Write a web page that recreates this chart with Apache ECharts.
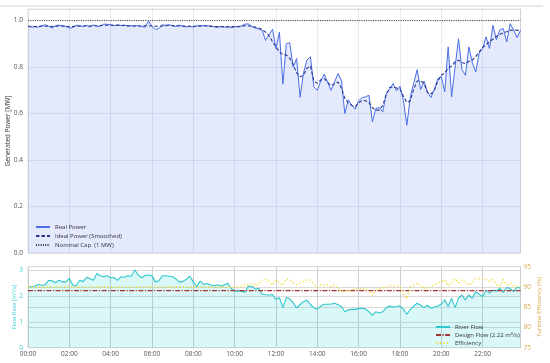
<!DOCTYPE html>
<html><head><meta charset="utf-8">
<script src="https://cdn.jsdelivr.net/npm/echarts@6/dist/echarts.min.js"></script>
<style>html,body{margin:0;padding:0;background:#fff}#c{width:550px;height:363px}</style>
</head><body><div id="c"></div>
<script>
const stepMinutes = 10;
const timeTicks = ['00:00','02:00','04:00','06:00','08:00','10:00','12:00','14:00','16:00','18:00','20:00','22:00'];
const powerTicks = [0.0, 0.2, 0.4, 0.6, 0.8, 1.0];
const nominalCap = 1.0;
const designFlow = 2.22;
const realPower = [
 0.975,0.972,0.973,0.972,0.978,0.982,0.976,0.968,0.978,0.981,
 0.977,0.975,0.968,0.970,0.980,0.978,0.975,0.980,0.972,0.982,
 0.975,0.976,0.985,0.984,0.983,0.978,0.982,0.979,0.981,0.976,
 0.978,0.976,0.979,0.974,0.972,0.998,0.975,0.962,0.966,0.982,
 0.980,0.983,0.977,0.975,0.981,0.975,0.973,0.976,0.972,0.978,
 0.977,0.979,0.978,0.977,0.973,0.971,0.975,0.972,0.975,0.970,
 0.975,0.972,0.977,0.985,0.986,0.975,0.968,0.964,0.958,0.915,
 0.940,0.963,0.880,0.951,0.726,0.900,0.905,0.800,0.837,0.670,
 0.775,0.830,0.845,0.715,0.700,0.740,0.770,0.735,0.700,0.735,
 0.772,0.743,0.600,0.660,0.636,0.619,0.655,0.668,0.672,0.679,
 0.564,0.622,0.626,0.607,0.685,0.705,0.729,0.698,0.718,0.657,
 0.550,0.672,0.730,0.789,0.703,0.739,0.693,0.669,0.705,0.750,
 0.760,0.693,0.887,0.672,0.800,0.922,0.790,0.765,0.887,0.820,
 0.779,0.860,0.880,0.930,0.880,0.980,0.918,0.960,0.966,0.908,
 0.987,0.960,0.927,0.958];
const idealPower = [
 0.976,0.976,0.975,0.975,0.976,0.976,0.976,0.975,0.976,0.977,
 0.977,0.976,0.975,0.975,0.976,0.977,0.977,0.977,0.977,0.978,
 0.978,0.979,0.980,0.980,0.980,0.980,0.980,0.979,0.979,0.978,
 0.978,0.977,0.977,0.977,0.978,0.978,0.977,0.976,0.976,0.977,
 0.978,0.979,0.979,0.978,0.977,0.977,0.976,0.976,0.976,0.976,
 0.977,0.977,0.977,0.976,0.975,0.974,0.974,0.974,0.973,0.973,
 0.974,0.975,0.976,0.978,0.978,0.975,0.972,0.968,0.962,0.950,
 0.935,0.910,0.887,0.865,0.855,0.852,0.838,0.810,0.775,0.758,
 0.765,0.795,0.805,0.740,0.730,0.745,0.750,0.735,0.720,0.728,
 0.736,0.710,0.665,0.645,0.635,0.630,0.645,0.657,0.655,0.648,
 0.625,0.615,0.615,0.635,0.680,0.712,0.715,0.710,0.705,0.675,
 0.648,0.655,0.705,0.740,0.740,0.730,0.690,0.685,0.700,0.740,
 0.765,0.775,0.795,0.805,0.822,0.830,0.820,0.815,0.825,0.830,
 0.845,0.865,0.885,0.895,0.910,0.920,0.932,0.940,0.948,0.952,
 0.958,0.960,0.958,0.958];
const riverFlow = [
 2.37,2.37,2.40,2.46,2.43,2.45,2.62,2.60,2.53,2.62,
 2.56,2.56,2.70,2.44,2.41,2.62,2.57,2.74,2.68,2.62,
 2.89,2.80,2.76,2.80,2.72,2.73,2.62,2.76,2.74,2.80,
 2.78,3.02,2.83,2.72,2.81,2.83,2.80,2.56,2.60,2.80,
 2.80,2.78,2.76,2.67,2.55,2.58,2.66,2.78,2.56,2.37,
 2.59,2.46,2.50,2.44,2.41,2.45,2.40,2.45,2.50,2.31,
 2.20,2.21,2.19,2.16,2.40,2.38,2.28,2.31,2.08,2.06,
 2.05,2.07,1.88,1.95,1.56,1.95,1.90,1.75,1.55,1.68,
 1.79,1.85,1.68,1.55,1.50,1.62,1.69,1.69,1.70,1.73,
 1.67,1.60,1.40,1.47,1.49,1.49,1.53,1.53,1.51,1.40,
 1.26,1.40,1.35,1.40,1.55,1.62,1.58,1.60,1.63,1.50,
 1.30,1.48,1.62,1.73,1.65,1.56,1.65,1.53,1.58,1.62,
 1.70,1.86,1.60,1.92,1.56,1.92,2.05,1.86,2.05,1.92,
 2.18,2.08,1.99,2.24,2.12,2.24,2.20,2.31,2.15,2.34,
 2.30,2.18,2.36,2.31];
const efficiency = [
 90.0,90.0,90.0,90.0,90.0,90.0,90.0,90.0,90.0,90.0,
 90.0,90.0,90.0,90.0,90.0,90.0,90.0,90.0,90.0,90.0,
 90.0,90.0,90.0,90.0,90.0,90.0,90.0,90.0,90.0,90.0,
 90.0,90.0,90.0,90.0,90.0,90.0,90.0,90.0,90.0,90.0,
 90.0,90.0,90.0,90.0,90.0,90.0,90.0,90.0,90.0,90.0,
 90.0,90.0,90.0,90.0,90.0,90.0,90.0,90.0,90.0,90.0,
 90.0,90.0,90.2,90.6,90.4,90.9,90.3,90.6,91.7,91.9,
 91.3,90.5,91.7,91.0,90.4,92.0,91.8,91.0,90.5,91.0,
 91.4,91.8,91.6,90.7,90.0,90.6,90.3,90.5,90.1,90.5,
 89.8,89.0,89.0,89.0,89.3,89.5,89.6,89.7,89.5,89.0,
 88.0,89.2,89.5,89.7,90.0,90.3,90.2,90.3,90.0,88.3,
 87.1,90.1,90.5,90.9,90.5,89.7,89.7,90.0,90.6,90.9,
 91.4,91.7,90.3,91.2,92.0,91.0,91.8,91.0,90.5,91.2,
 92.0,92.0,92.0,91.8,91.4,91.8,90.6,90.1,91.8,90.5,
 90.9,90.3,90.0,90.4];

const lastMin = (realPower.length - 1) * stepMinutes;
const pairs = arr => arr.map((v, i) => [i * stepMinutes, v]);
const FONT = 'Open Sans';
const tickFmt = v => (v % 120 === 0 && v / 120 < timeTicks.length) ? timeTicks[v / 120] : '';
const vText = (text, x, y, size, color) => ({
  type: 'text', x: x, y: y, rotation: Math.PI / 2, silent: true, z: 100,
  style: {text: text, fontSize: size, fill: color, fontFamily: FONT, align: 'center', verticalAlign: 'middle'}
});

const chart = echarts.init(document.getElementById('c'), null, {renderer: 'canvas'});
chart.setOption({
  animation: false,
  backgroundColor: '#ffffff',
  textStyle: {fontFamily: FONT},
  graphic: [
    {type: 'rect', shape: {x: 0, y: 5, width: 543, height: 2}, style: {fill: '#e8e8e8'}, silent: true},
    vText('Generated Power [MW]', 8.5, 131, 6.5, '#333'),
    vText('Flow Rate [m³/s]', 14.5, 307, 6, '#3fd0d6'),
    vText('Turbine Efficiency [%]', 539.5, 307, 6, '#d8a94e')
  ],
  grid: [
    {left: 28, right: 29.5, top: 9, height: 244, show: true, borderColor: '#e2e2e2', borderWidth: 1,
     backgroundColor: 'transparent', containLabel: false, outerBoundsMode: 'none'},
    {left: 28, right: 29.5, top: 266.7, height: 81, show: true, borderColor: '#dddddd', borderWidth: 1,
     backgroundColor: 'transparent', containLabel: false, outerBoundsMode: 'none'}
  ],
  xAxis: [
    {type: 'value', gridIndex: 0, min: 0, max: lastMin, interval: 120,
     axisLine: {show: false}, axisTick: {show: false}, axisLabel: {show: false},
     splitLine: {show: true, lineStyle: {color: 'rgba(160,170,200,0.25)', width: 1}}},
    {type: 'value', gridIndex: 1, min: 0, max: lastMin, interval: 120,
     axisLine: {show: false}, axisTick: {show: false},
     axisLabel: {formatter: tickFmt, fontSize: 6.5, color: '#555', margin: 3, fontFamily: FONT},
     splitLine: {show: true, lineStyle: {color: '#cfcfcf', width: 1}}}
  ],
  yAxis: [
    {type: 'value', gridIndex: 0, min: 0, max: 1.05, interval: 0.2,
     axisLine: {show: false}, axisTick: {show: false},
     axisLabel: {fontSize: 6.5, color: '#555', margin: 5, fontFamily: FONT,
       formatter: v => powerTicks.some(t => Math.abs(t - v) < 1e-6) ? v.toFixed(1) : ''},
     splitLine: {show: true, lineStyle: {color: 'rgba(160,170,200,0.25)', width: 1}}},
    {type: 'value', gridIndex: 1, min: 0, max: 3.15, interval: 1,
     axisLine: {show: false}, axisTick: {show: false},
     axisLabel: {fontSize: 6.5, color: '#3fcdd3', margin: 5, fontFamily: FONT,
       formatter: v => (Math.abs(v - Math.round(v)) < 1e-6) ? String(Math.round(v)) : ''},
     splitLine: {show: true, lineStyle: {color: '#dadada', width: 1}}},
    {type: 'value', gridIndex: 1, min: 75, max: 95, interval: 5, position: 'right',
     axisLine: {show: false}, axisTick: {show: false},
     axisLabel: {fontSize: 6.5, color: '#d8a94e', margin: 3, fontFamily: FONT},
     splitLine: {show: true, lineStyle: {color: '#dadada', width: 1}}}
  ],
  legend: [
    {orient: 'vertical', left: 30, top: 219, itemWidth: 14, itemHeight: 7, itemGap: 3,
     itemStyle: {opacity: 0}, textStyle: {fontSize: 6, color: '#333', fontFamily: FONT},
     data: ['Real Power', 'Ideal Power (Smoothed)', 'Nominal Cap. (1 MW)']},
    {orient: 'vertical', left: 430, top: 319, itemWidth: 14, itemHeight: 7, itemGap: 2,
     itemStyle: {opacity: 0}, textStyle: {fontSize: 6, color: '#333', fontFamily: FONT},
     data: ['River Flow', 'Design Flow (2.22 m³/s)', 'Efficiency']}
  ],
  series: [
    {name: 'Real Power', type: 'line', xAxisIndex: 0, yAxisIndex: 0, data: pairs(realPower),
     symbol: 'none', lineStyle: {color: '#4a6ee6', width: 1}, itemStyle: {color: '#4a6ee6'},
     areaStyle: {color: 'rgba(65,105,225,0.2)'}, z: 3},
    {name: 'Ideal Power (Smoothed)', type: 'line', xAxisIndex: 0, yAxisIndex: 0, data: pairs(idealPower),
     symbol: 'none', lineStyle: {color: '#2a3592', width: 1.1, type: [3.5, 2]}, itemStyle: {color: '#2a3592'}, z: 4},
    {name: 'Nominal Cap. (1 MW)', type: 'line', xAxisIndex: 0, yAxisIndex: 0,
     data: [[0, nominalCap], [lastMin, nominalCap]],
     symbol: 'none', lineStyle: {color: '#333', width: 1, type: [1, 1.3]}, itemStyle: {color: '#333'}, z: 2},
    {name: 'River Flow', type: 'line', xAxisIndex: 1, yAxisIndex: 1, data: pairs(riverFlow),
     symbol: 'none', lineStyle: {color: '#2ec6cc', width: 1.1}, itemStyle: {color: '#2ec6cc'},
     areaStyle: {color: 'rgba(0,206,209,0.2)'}, z: 3},
    {name: 'Design Flow (2.22 m³/s)', type: 'line', xAxisIndex: 1, yAxisIndex: 1,
     data: [[0, designFlow], [lastMin, designFlow]],
     symbol: 'none', lineStyle: {color: '#a33232', width: 1.2, type: [5, 1.5, 1.2, 1.5]}, itemStyle: {color: '#a33232'}, z: 4},
    {name: 'Efficiency', type: 'line', xAxisIndex: 1, yAxisIndex: 2, data: pairs(efficiency),
     symbol: 'none', lineStyle: {color: '#f2de36', width: 1.4, type: [1.4, 2.2]}, itemStyle: {color: '#f2de36'}, z: 5}
  ]
});
</script>
</body></html>
